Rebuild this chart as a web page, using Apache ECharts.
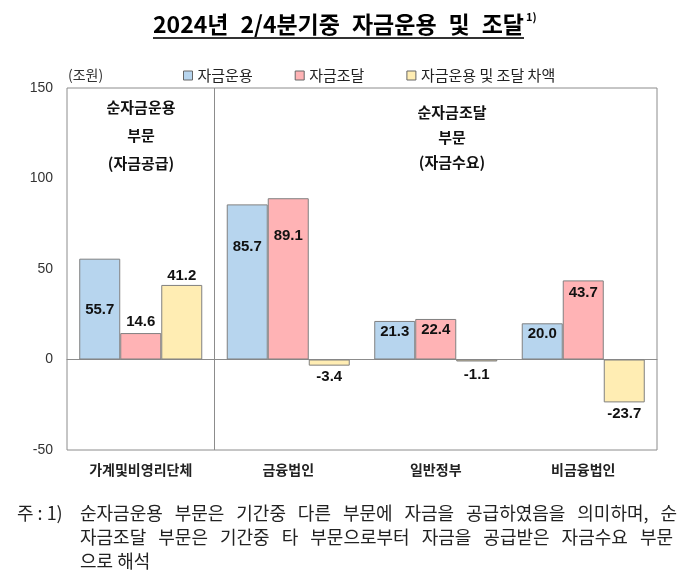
<!DOCTYPE html>
<html><head><meta charset="utf-8">
<script src="https://cdn.jsdelivr.net/npm/echarts@6/dist/echarts.min.js"></script>
<style>html,body{margin:0;padding:0;background:#fff}#c{width:700px;height:575px}</style>
</head><body><div id="c"></div>
<script>
const categories = ['가계및비영리단체', '금융법인', '일반정부', '비금융법인'];
const seriesNames = ['자금운용', '자금조달', '자금운용 및 조달 차액'];
const useOfFunds = [55.7, 85.7, 21.3, 20.0];
const raisingFunds = [14.6, 89.1, 22.4, 43.7];
const netDiff = [41.2, -3.4, -1.1, -23.7];
const yMin = -50, yMax = 150, yStep = 50;
const sectorDivider = 1; // boundary between 1st and 2nd category

const titleWords = ['2024년', '2/4분기중', '자금운용', '및', '조달'];
const noteLines = [
  '순자금운용 부문은 기간중 다른 부문에 자금을 공급하였음을 의미하며, 순',
  '자금조달 부문은 기간중 타 부문으로부터 자금을 공급받은 자금수요 부문',
  '으로 해석'
];

const FONT = "'Noto Sans CJK KR', 'Noto Sans', sans-serif";
const NUMFONT = "'Liberation Sans Narrow', 'Liberation Sans', sans-serif";
const colors = ['#B7D5EE', '#FFB3B5', '#FFEDB3'];
const labelPlace = [
  [['insideTop', 44], ['insideTop', 35], ['insideTop', 3], ['insideTop', 3]],
  [['top', 4], ['insideTop', 30], ['insideTop', 3], ['insideTop', 5]],
  [['top', 2], ['bottom', 4], ['bottom', 6], ['bottom', 4]]
];
const allValues = [useOfFunds, raisingFunds, netDiff];

const ctx = document.createElement('canvas').getContext('2d');
function textWidth(t, size, weight) {
  ctx.font = (weight || 'normal') + ' ' + size + 'px ' + FONT;
  return ctx.measureText(t).width;
}
function justify(words, x0, x1, y, size, weight, fill) {
  const ws = words.map(w => textWidth(w, size, weight));
  const total = ws.reduce((a, b) => a + b, 0);
  const gap = words.length > 1 ? (x1 - x0 - total) / (words.length - 1) : 0;
  let x = x0;
  return words.map((w, i) => {
    const el = { type: 'text', x: x, y: y, style: { text: w, fontFamily: FONT, fontSize: size, fontWeight: weight || 'normal', fill: fill, align: 'left', verticalAlign: 'middle' } };
    x += ws[i] + gap;
    return el;
  });
}
function centeredLines(lines, cx, ys, size) {
  return lines.map((t, i) => ({ type: 'text', x: cx, y: ys[i], style: { text: t, fontFamily: FONT, fontSize: size, fontWeight: 'bold', fill: '#111', align: 'center', verticalAlign: 'middle' } }));
}

const graphics = [].concat(
  justify(titleWords, 153, 524, 24, 23, 'bold', '#000'),
  [{ type: 'text', x: 526, y: 17, style: { text: '1)', fontFamily: FONT, fontSize: 11, fontWeight: 'bold', fill: '#000', verticalAlign: 'middle' } },
   { type: 'line', shape: { x1: 153, y1: 38, x2: 524, y2: 38 }, style: { stroke: '#333', lineWidth: 2 } },
   { type: 'text', x: 68, y: 75, style: { text: '(조원)', fontFamily: FONT, fontSize: 14, fill: '#333', verticalAlign: 'middle' } },
   { type: 'text', x: 17, y: 513, style: { text: '주 : 1)', fontFamily: FONT, fontSize: 18, fill: '#222', verticalAlign: 'middle' } },
   { type: 'text', x: 80, y: 561, style: { text: noteLines[2], fontFamily: FONT, fontSize: 18, fill: '#222', verticalAlign: 'middle' } }],
  justify(noteLines[0].split(' '), 80, 677, 513, 18, 'normal', '#222'),
  justify(noteLines[1].split(' '), 80, 673, 537, 18, 'normal', '#222'),
  centeredLines(['순자금운용', '부문', '(자금공급)'], 141, [107, 135, 163], 15),
  centeredLines(['순자금조달', '부문', '(자금수요)'], 452, [112, 137, 162], 15)
);

const chart = echarts.init(document.getElementById('c'));
const series = allValues.map((vals, si) => ({
  name: seriesNames[si],
  type: 'bar',
  barGap: '0%',
  barCategoryGap: '16.6%',
  itemStyle: { color: colors[si], borderColor: '#808080', borderWidth: 1 },
  label: {
    show: true, fontFamily: NUMFONT, fontWeight: 'bold', fontSize: 15, color: '#111',
    formatter: p => Number(p.value).toFixed(1)
  },
  data: vals.map((v, ci) => ({
    value: v,
    label: { position: labelPlace[si][ci][0], distance: labelPlace[si][ci][1] }
  }))
}));
series.push({
  type: 'line', xAxisIndex: 1, data: [], silent: true,
  markLine: { symbol: 'none', silent: true, label: { show: false }, animation: false,
    lineStyle: { color: '#8c8c8c', type: 'solid', width: 1 },
    data: [{ xAxis: sectorDivider }] }
});

chart.setOption({
  animation: false,
  color: colors,
  grid: { left: 67, right: 43, top: 88, bottom: 125, show: true, borderColor: '#8c8c8c', borderWidth: 1, backgroundColor: 'transparent' },
  legend: {
    top: 63, left: 178, itemWidth: 9, itemHeight: 9, itemGap: 42,
    icon: 'rect',
    textStyle: { fontFamily: FONT, fontSize: 15, color: '#222' },
    itemStyle: { borderColor: '#666', borderWidth: 1 },
    data: seriesNames
  },
  xAxis: [{
    type: 'category', data: categories,
    axisLine: { show: true, onZero: true, lineStyle: { color: '#8c8c8c', width: 1 } },
    axisTick: { show: false },
    axisLabel: { fontFamily: FONT, fontWeight: 'bold', fontSize: 14, color: '#222', margin: 13 },
    splitLine: { show: false }
  }, {
    type: 'value', min: 0, max: categories.length, show: false
  }],
  yAxis: {
    type: 'value', min: yMin, max: yMax, interval: yStep,
    axisLine: { show: false }, axisTick: { show: false }, splitLine: { show: false },
    axisLabel: { fontFamily: NUMFONT, fontSize: 14, color: '#333', margin: 14 }
  },
  series: series,
  graphic: graphics
});
</script></body></html>
